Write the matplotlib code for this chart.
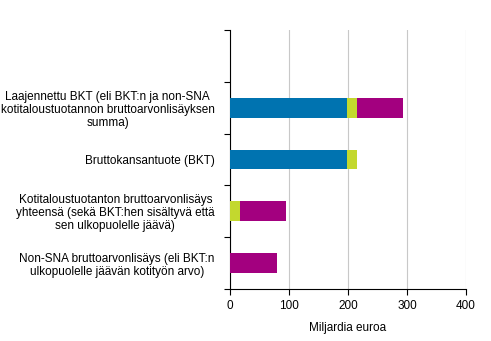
import matplotlib.pyplot as plt
import numpy as np

plt.rcParams['font.family'] = ['Liberation Sans', 'DejaVu Sans']
plt.rcParams['font.size'] = 8.5

# categories from top to bottom; the top slot is left empty
categories = [
    "",
    "Laajennettu BKT (eli BKT:n ja non-SNA\nkotitaloustuotannon bruttoarvonlisäyksen\nsumma)",
    "Bruttokansantuote (BKT)",
    "Kotitaloustuotanton bruttoarvonlisäys\nyhteensä (sekä BKT:hen sisältyvä että\nsen ulkopuolelle jäävä)",
    "Non-SNA bruttoarvonlisäys (eli BKT:n\nulkopuolelle jäävän kotityön arvo)",
]
bkt_excl_household = [0, 199, 199, 0, 0]
household_in_bkt = [0, 17, 17, 17, 0]
non_sna = [0, 78, 0, 78, 79]

blue = "#0073b0"
green = "#c3d82e"
purple = "#a3007f"

fig = plt.figure(figsize=(4.91, 3.41), dpi=100)
ax = fig.add_axes([230 / 491, 1 - 289 / 341, 236 / 491, 259 / 341])

y = np.arange(len(categories))[::-1]
h = 0.38
left = np.zeros(len(categories))
for vals, col in [(bkt_excl_household, blue), (household_in_bkt, green), (non_sna, purple)]:
    vals = np.array(vals, dtype=float)
    ax.barh(y, vals, height=h, left=left, color=col, zorder=3)
    left += vals

ax.set_xlim(0, 400)
ax.set_ylim(-0.5, len(categories) - 0.5)
ax.set_xticks([0, 100, 200, 300, 400])
ax.set_yticks(y)
ax.set_yticklabels(categories, multialignment='center', linespacing=1.1)
ax.set_yticks(np.arange(-0.5, len(categories)), minor=True)
ax.tick_params(axis='y', which='major', length=0, pad=11)
ax.tick_params(axis='y', which='minor', length=4, width=0.8)
ax.tick_params(axis='x', length=4, width=0.8, pad=4)
ax.grid(axis='x', color='#c8c8c8', linewidth=0.8, linestyle='-', zorder=0)

for s in ['top', 'right']:
    ax.spines[s].set_visible(False)
for s in ['left', 'bottom']:
    ax.spines[s].set_linewidth(0.8)

ax.set_xlabel("Miljardia euroa", labelpad=7)

fig.savefig("out.png", dpi=100)
